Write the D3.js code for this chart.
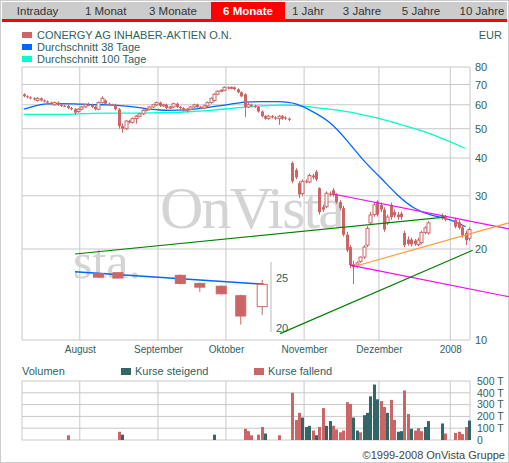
<!DOCTYPE html>
<html><head><meta charset="utf-8">
<script src="https://cdn.jsdelivr.net/npm/d3@7"></script>
<style>body{margin:0;background:#fff}svg{display:block;font-family:"Liberation Sans",Arial,sans-serif}</style>
</head><body><svg id="c" width="509" height="463"></svg>
<script>
const tabs=["Intraday","1 Monat","3 Monate","6 Monate","1 Jahr","3 Jahre","5 Jahre","10 Jahre"];
const tabCenters=[37.6,105.7,173,248,308,362,421,482];
const activeTab="6 Monate";
const monthLabels=["August","September","Oktober","November","Dezember","2008"];
const monthStarts=[17,40,60,83,105,126];
const priceTicks=[10,20,30,40,50,60,70,80];
const volTicks=[0,100,200,300,400,500];
const opens=[65,64,63.5,63,62,63,62,61.5,61,60,61,60,59.5,59.5,58.5,58,57,
58,59,60,60,59,58,61,62,60.5,60,60,58,51,50,53,52.5,54,55,56,57.5,58,59,60,
61,59.5,60,58.5,59,60.5,59,58.5,57.5,58,59,60,59,58.5,59.5,61,62,65,66.5,67,
68.5,68,68.5,67.5,66,65,59,60,59.5,59,57,55,54,55,54.5,54,55,54.5,54,38.5,36.5,33,30.5,
33.5,33.3,35,36,31.8,27.5,27.6,30.5,31.3,30.2,28.6,27.3,22.3,20.3,17.8,17.7,18.2,18.8,20.6,24.4,26,28.7,
28,27,24.4,28,26.5,26,26.2,22.6,21.5,21.5,21.3,20.7,21,22.7,22.6,null,null,null,25.8,25.5,null,
null,25,24.5,23.6,22.6,21.7];
const closes=[64,63.5,63,62.5,63,62,61.5,61,60.5,61,60,59.5,59.5,58.5,58,56.5,58,
59,60,60,59,58,61,63,60.5,60,60,58,51,50,53,52.5,54,55,56,57.5,58,59,60,61,
59.5,60,58.5,59,60.5,59,58.5,57.5,58,59,60,59,58.5,59.5,61,63,65,66.5,67,68.5,
68,68.5,67.5,66,64,59,60,59.5,59,57,55,54,55,54.5,54,55,54,54,53.5,33.5,34.5,30.3,33.5,
33.5,35,34.5,34,26.5,27,30.6,30.2,30.2,28.6,27.3,22.3,19.8,17.7,17.4,18,18.8,20.3,23.4,25.9,28,26,
27,23.2,25.5,25.5,25.8,25.5,25.5,20.6,20.8,20.7,20.8,21.4,22.7,23.5,24.4,null,null,null,25.3,25,null,
null,23.7,23.5,22.2,21.4,23.2];
const highs=[65.5,64.5,64,63.5,63.5,63.5,62.5,62,61.5,61.5,61.5,60.5,60,60,59,58.5,58.5,
59.5,60.5,61,60.5,59.5,61.5,64,62.5,61,60.5,60.5,58.5,52,53.5,53.5,54.5,55.5,56.5,58,58.5,59.5,60.5,61.5,
61.5,60.5,60.5,59.5,61,61,59.5,59,58.5,59.5,60.5,60.5,59.5,60,61.5,63.5,65.5,67,67.5,69,
69,69,69,68,66.5,65.5,61,60.5,60,59.5,57.5,55.5,55.5,55.5,55,55.5,55.5,55,54.5,39,37,33.5,34,
34,35.5,35.5,36.5,32,28,31,31,31.8,30.6,29,27.8,22.8,20.6,18.3,18.2,18.9,20.6,23.8,26.5,28.5,29,
28.5,27.5,26,28.5,27,26.5,26.6,23,22,21.8,21.6,21.8,23,23.8,24.8,null,null,null,26.2,25.9,null,
null,25.4,24.9,24,23,23.6];
const lows=[63.5,63,62.5,62,61.5,61.5,61,60.5,60,59.5,59.5,59,59,58,57.5,55.5,56.5,
57.5,58.5,59.5,58.5,57.5,57.5,60.5,60,59.5,59.5,57.5,50,48.5,49.5,52,52,52,54.5,55.5,57,57.5,58.5,59.5,
59,59,58,58,58.5,58.5,58,57,56.5,57.5,58.5,58.5,58,58,59,60.5,61.5,64.5,66,66.5,
67.5,67.5,67,65.5,63.5,54.6,58.5,59,58.5,56.5,54.5,53.5,53.5,54,53.5,51.5,53.5,53.5,53,33,34,29.5,30,
33,33,34,33.5,26,26.5,27.3,29.8,29.8,28.2,26.8,22,19.5,17.3,15.3,17.3,18,18.5,20.3,24,25.6,25.6,
26.5,22.8,24,25,25.4,25,25,20.3,20.5,20.4,20.5,20.4,20.7,22.4,22.3,null,null,null,25,24.7,null,
null,23.4,23.2,21.8,20.6,21.3];
const maIdx=[0,5,10,15,20,25,30,35,40,45,50,55,60,65,70,75,80,85,90,95,100,105,110,115,120,125,130];
const ma38=[58,60.5,60.5,60.5,60,60,59.5,58.5,57.5,57.5,58,59,60,61.5,61.5,61.5,61,57,53,46,39,34.5,30,27,25.8,25.2,23.7];
const ma100=[55.8,55.8,55.8,55.8,56.3,56.3,56.3,56.3,56.5,56.5,57,57.5,58.2,59,59.5,60,59.8,59,58,57,55.5,54,52,50,48,45.5,43];
const trendLines=[
 {color:"#ff00ff",p:[[91,30.4],[142.7,23.3]]},
 {color:"#ff00ff",p:[[96,17.7],[142.7,13.9]]},
 {color:"#ff9933",p:[[98,17.6],[142.7,24.4]]},
 {color:"#008000",p:[[15.1,19.25],[123.9,25.5]]},
 {color:"#008000",p:[[75.4,10.5],[132.1,19.8]]}];
const volRise=[[29,45],[56,45],[71,55],[82,190],[83,110],[84,120],[86,40],[89,120],[90,160],[97,190],[98,80],[100,210],[101,230],[102,370],[103,470],[104,345],[107,230],[110,70],[111,75],[114,95],[118,110],[119,160],[123,140],[131,165]];
const volFall=[[13,40],[28,70],[65,95],[66,75],[67,40],[69,45],[70,110],[75,40],[79,400],[80,170],[81,230],[85,80],[87,110],[88,270],[91,120],[92,90],[93,65],[94,80],[95,320],[96,305],[99,65],[105,330],[106,280],[108,340],[109,170],[112,420],[113,220],[115,80],[116,100],[117,75],[124,55],[127,60],[128,70],[129,50],[130,110]];
const inIdx=[1.2,2.2,5.4,6.4,7.5,8.5,9.6];
const inO=[25.5,25.6,25.3,24.4,24.1,23.1,22.0];
const inC=[25.1,25.0,24.4,24.0,23.3,21.1,24.3];
const inH=[25.6,25.6,25.4,24.5,24.2,23.2,24.8];
const inL=[25.0,24.9,24.3,23.5,23.2,20.3,21.2];
const inMaIdx=[0,9.7], inMa=[25.7,24.3];
const inTicks=[25,20];

const svg=d3.select("#c");
const TXT="#2f5f5f", GRID="#c8c8c8", RED="#cc6666", TEAL="#336666";
svg.append("rect").attr("x",0.5).attr("y",0.5).attr("width",508).attr("height",462).attr("fill","none").attr("stroke","#ccc");
svg.append("rect").attr("x",2).attr("y",2).attr("width",505).attr("height",17).attr("fill","#cccccc");
svg.append("rect").attr("x",2).attr("y",19).attr("width",505).attr("height",3).attr("fill","#ff0000");
svg.append("rect").attr("x",211).attr("y",2).attr("width",74).attr("height",18).attr("fill","#ff0000");
tabs.forEach((t,i)=>{
 svg.append("text").attr("x",tabCenters[i]).attr("y",15).attr("text-anchor","middle").attr("font-size",11.5)
  .attr("font-weight",t===activeTab?"bold":"normal").attr("fill",t===activeTab?"#fff":"#333").text(t);
});
[["CONERGY AG INHABER-AKTIEN O.N.",RED],["Durchschnitt 38 Tage","#0066ff"],["Durchschnitt 100 Tage","#00ffcc"]].forEach((d,i)=>{
 svg.append("rect").attr("x",22).attr("y",32+i*12).attr("width",10).attr("height",6).attr("fill",d[1]);
 svg.append("text").attr("x",37).attr("y",39+i*12).attr("font-size",11).attr("fill",TXT).text(d[0]);
});
svg.append("text").attr("x",502).attr("y",39).attr("text-anchor","end").attr("font-size",11).attr("fill",TXT).text("EUR");

const x=d3.scaleLinear().domain([-0.5,131.3]).range([22,470]);
const y=d3.scaleLog().domain([10,80]).range([340,67]);
const g=svg.append("g");
priceTicks.forEach(v=>g.append("line").attr("x1",22).attr("x2",470).attr("y1",y(v)).attr("y2",y(v)).attr("stroke",GRID));
[-0.5,...monthStarts.map(m=>m-0.5),131.3].forEach(m=>g.append("line").attr("x1",x(m)).attr("x2",x(m)).attr("y1",67).attr("y2",340).attr("stroke",GRID));
const yAx=g.append("g").attr("transform","translate(472,0)").call(d3.axisRight(y).tickValues(priceTicks).tickFormat(d3.format("d")).tickSize(0));
yAx.select(".domain").remove();
yAx.selectAll("text").attr("font-size",11).attr("fill",TXT).attr("font-family","Liberation Sans, Arial");
const xAx=g.append("g").attr("transform","translate(0,343)").call(d3.axisBottom(x).tickValues(monthStarts.map(m=>m-0.5)).tickFormat((d,i)=>monthLabels[i]).tickSize(0));
xAx.select(".domain").remove();
xAx.selectAll("text").attr("font-size",10).attr("fill",TXT).attr("font-family","Liberation Sans, Arial");
g.append("text").attr("x",160).attr("y",228).attr("font-family","Liberation Serif, serif").attr("font-size",60).attr("textLength",185).attr("fill","#d4d4d4").text("OnVista");
g.append("text").attr("x",73).attr("y",278).attr("font-family","Liberation Serif, serif").attr("font-size",50).attr("fill","#d4d4d4").text("sta.");
const ix=d3.scaleLinear().domain([0,10]).range([75,270]);
const iy=d3.scaleLog().domain([20,25]).range([328,278]);
g.append("line").attr("x1",271).attr("x2",271).attr("y1",262).attr("y2",332).attr("stroke","#bbb");
g.append("path").datum(inMaIdx.map((d,i)=>[d,inMa[i]])).attr("d",d3.line().x(d=>ix(d[0])).y(d=>iy(d[1]))).attr("stroke","#0066ff").attr("stroke-width",1.5).attr("fill","none");
inIdx.forEach((d,i)=>{
 const up=inC[i]>inO[i];
 g.append("line").attr("x1",ix(d)).attr("x2",ix(d)).attr("y1",iy(inH[i])).attr("y2",iy(inL[i])).attr("stroke",RED);
 g.append("rect").attr("x",ix(d)-5).attr("width",10).attr("y",iy(Math.max(inO[i],inC[i]))).attr("height",Math.max(1,Math.abs(iy(inO[i])-iy(inC[i]))))
  .attr("fill",up?"#fff":RED).attr("stroke",RED);
});
inTicks.forEach(v=>g.append("text").attr("x",276).attr("y",iy(v)+4).attr("font-size",11).attr("fill",TXT).text(v));
const ln=d3.line().x(d=>x(d[0])).y(d=>y(d[1])).curve(d3.curveBasis);
g.append("path").datum(maIdx.map((d,i)=>[d,ma100[i]])).attr("d",ln).attr("stroke","#00ffcc").attr("stroke-width",1.3).attr("fill","none");
g.append("path").datum(maIdx.map((d,i)=>[d,ma38[i]])).attr("d",ln).attr("stroke","#0066ff").attr("stroke-width",1.3).attr("fill","none");
opens.forEach((o,i)=>{
 const c=closes[i]; if(o==null||c==null) return;
 const cx=Math.round(x(i))+0.5, up=c>o;
 g.append("line").attr("x1",cx).attr("x2",cx).attr("y1",y(highs[i])).attr("y2",y(lows[i])).attr("stroke",RED);
 const top=y(Math.max(o,c)),h=Math.max(1,Math.abs(y(o)-y(c)));
 if(up) g.append("rect").attr("x",cx-1.5).attr("y",top).attr("width",3).attr("height",h).attr("fill","#fff").attr("stroke",RED);
 else g.append("rect").attr("x",cx-1.5).attr("y",top).attr("width",3).attr("height",h).attr("fill",RED);
});
trendLines.forEach(t=>g.append("path").datum(t.p).attr("d",d3.line().x(d=>x(d[0])).y(d=>y(d[1]))).attr("stroke",t.color).attr("stroke-width",1.2).attr("fill","none"));

const vy=d3.scaleLinear().domain([0,500]).range([440,381]);
const vg=svg.append("g");
vg.append("text").attr("x",22).attr("y",375).attr("font-size",11).attr("fill",TXT).text("Volumen");
vg.append("rect").attr("x",121).attr("y",368).attr("width",10).attr("height",7).attr("fill",TEAL);
vg.append("text").attr("x",135).attr("y",375).attr("font-size",11).attr("fill",TXT).text("Kurse steigend");
vg.append("rect").attr("x",254).attr("y",368).attr("width",10).attr("height",7).attr("fill",RED);
vg.append("text").attr("x",268).attr("y",375).attr("font-size",11).attr("fill",TXT).text("Kurse fallend");
volTicks.forEach(v=>vg.append("line").attr("x1",22).attr("x2",470).attr("y1",vy(v)).attr("y2",vy(v)).attr("stroke",GRID));
[-0.5,...monthStarts.map(m=>m-0.5),131.3].forEach(m=>vg.append("line").attr("x1",x(m)).attr("x2",x(m)).attr("y1",381).attr("y2",440).attr("stroke",GRID));
const vAx=vg.append("g").attr("transform","translate(474,0)").call(d3.axisRight(vy).tickValues(volTicks).tickFormat(d=>d?d+" T":"0").tickSize(0));
vAx.select(".domain").remove();
vAx.selectAll("text").attr("font-size",10.5).attr("fill",TXT).attr("font-family","Liberation Sans, Arial");
[[volRise,TEAL],[volFall,RED]].forEach(([arr,col])=>arr.forEach(d=>{
 vg.append("rect").attr("x",Math.round(x(d[0]))-1).attr("width",3).attr("y",vy(d[1])).attr("height",vy(0)-vy(d[1])).attr("fill",col);
}));
svg.append("text").attr("x",505).attr("y",459).attr("text-anchor","end").attr("font-size",11).attr("fill","#444").text("©1999-2008 OnVista Gruppe");
</script></body></html>
